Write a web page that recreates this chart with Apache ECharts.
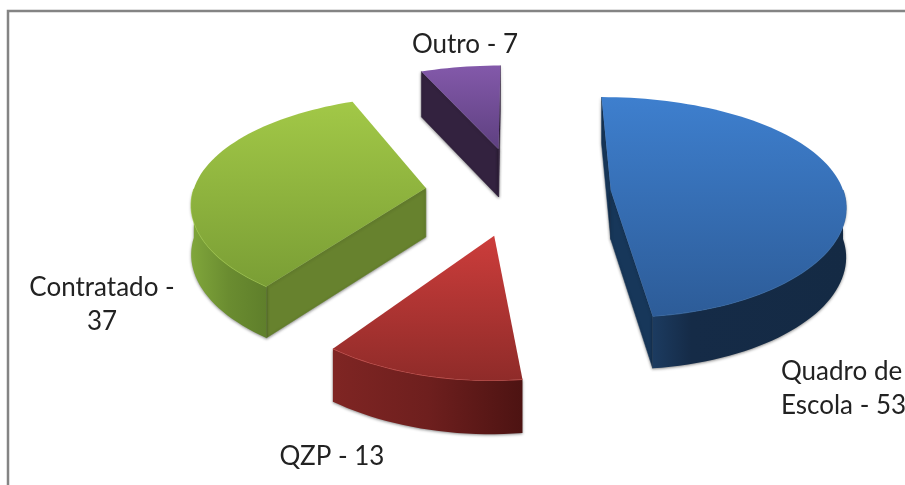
<!DOCTYPE html>
<html><head><meta charset="utf-8">
<style>html,body{margin:0;padding:0;background:#fff;overflow:hidden}#c{width:905px;height:485px}</style>
<script src="https://cdn.jsdelivr.net/npm/echarts@6/dist/echarts.min.js"></script>
</head><body><div id="c"></div>
<script>
const categories = ['Quadro de Escola', 'QZP', 'Contratado', 'Outro'];
const values = [53, 13, 37, 7];
const labelLines = [['Quadro de', 'Escola - 53'], ['QZP - 13'], ['Contratado -', '37'], ['Outro - 7']];

// styling and layout
const labelPos = [[781, 372, 'left'], [332, 457, 'center'], [102, 288, 'center'], [465, 45, 'center']];
const explode = [0.40, 0.385, 0.40, 0.44];
const palette = [
  {top: ['#3e7fce', '#2d5c98'], outer: ['#1c3b60', '#152b47', '#142a44'], mid: 0.2, cut: '#17375a', rim: '#3b6ea8'},
  {top: ['#cc3d3b', '#8f2b29'], outer: ['#7f2523', '#6e1f1e', '#4d1312'], mid: 0.5, cut: '#5a1716', rim: '#d45a56'},
  {top: ['#a2c847', '#7a9e35'], outer: ['#80a63b', '#6a8c30', '#5f7f2b'], mid: 0.5, cut: '#67822e', rim: '#a8d050'},
  {top: ['#8359aa', '#5e4080'], outer: ['#3a2650', '#33214a', '#2f1f42'], mid: 0.5, cut: '#33223f', rim: '#8359aa'}
];
const VX = 518, VY = 193, RX = 233, PERSP = 0.151, AY = 717, DEPTH = 49, START = 0;
const DEG = Math.PI / 180;

function project(x, y, h) {
  const s = 1 / (1 - PERSP * y);
  return [VX + RX * x * Math.pow(s, 0.75),
          VY + AY * (s - 1) + h * DEPTH * Math.pow(s, 0.4)];
}
const total = values.reduce((a, b) => a + b, 0);
const spans = [];
values.reduce((acc, v) => { spans.push([acc, acc + v / total * 360]); return acc + v / total * 360; }, START);

function renderSlice(params, api) {
  const i = api.value(0);
  const [a0, a1] = spans[i];
  const mid = (a0 + a1) / 2 * DEG;
  const ox = explode[i] * Math.sin(mid), oy = -explode[i] * Math.cos(mid);
  const arc = [];
  const n = Math.ceil((a1 - a0) / 2);
  for (let k = 0; k <= n; k++) {
    const t = (a0 + (a1 - a0) * k / n) * DEG;
    arc.push([ox + Math.sin(t), oy - Math.cos(t)]);
  }
  const P = palette[i];
  const at = (p, h) => project(p[0], p[1], h);
  const apex = [ox, oy];
  const children = [];
  const wall = (pts, fill) => ({
    type: 'polygon', shape: {points: pts},
    style: {fill, stroke: typeof fill === 'string' ? fill : null, lineWidth: 0.5,
            shadowBlur: 3, shadowColor: 'rgba(0,0,0,0.45)', shadowOffsetY: 1}
  });
  // cut faces, only where they face the viewer
  const A = at(apex, 0), M = at(arc[Math.floor(n / 2)], 0);
  [arc[0], arc[n]].forEach(e => {
    const E = at(e, 0);
    const dx = E[0] - A[0], dy = E[1] - A[1];
    const inner = dx * (M[1] - A[1]) - dy * (M[0] - A[0]);
    const down = dx * 1;
    if (inner * down < 0) {
      children.push(wall([A, E, at(e, 1), at(apex, 1)], P.cut));
    }
  });
  // outer wall: front-facing part of the rim
  const front = arc.filter(p => p[1] - oy >= -0.02);
  if (front.length > 1) {
    const pts = front.map(p => at(p, 0)).concat(front.slice().reverse().map(p => at(p, 1)));
    children.push(wall(pts, new echarts.graphic.LinearGradient(0, 0, 1, 0, [
      {offset: 0, color: P.outer[0]}, {offset: P.mid, color: P.outer[1]}, {offset: 1, color: P.outer[2]}
    ])));
    children.push({type: 'polyline', shape: {points: front.map(p => at(p, 0))},
      style: {fill: null, stroke: P.rim, lineWidth: 1.2, opacity: 0.8}});
  }
  // top face
  children.push({
    type: 'polygon',
    shape: {points: [A].concat(arc.map(p => at(p, 0)))},
    style: {fill: new echarts.graphic.LinearGradient(0, 0, 0, 1, [
      {offset: 0, color: P.top[0]}, {offset: 1, color: P.top[1]}
    ])}
  });
  // label
  const lp = labelPos[i];
  labelLines[i].forEach((line, li) => {
    children.push({type: 'text', z2: 10, style: {
      text: line, x: lp[0], y: lp[1] + li * 34, align: lp[2], verticalAlign: 'middle',
      font: '400 26px Lato, "Open Sans", sans-serif', fill: '#222'
    }});
  });
  return {type: 'group', children};
}

const chart = echarts.init(document.getElementById('c'), null, {renderer: 'canvas'});
chart.setOption({
  animation: false,
  backgroundColor: '#fff',
  graphic: [{type: 'polyline', shape: {points: [[8, 485], [8, 11], [905, 11]]},
    style: {fill: null, stroke: '#848484', lineWidth: 2.5}, silent: true}],
  series: [{
    type: 'custom', coordinateSystem: 'none', renderItem: renderSlice,
    data: categories.map((c, i) => ({name: c, value: [i, values[i]]}))
  }]
});
</script></body></html>
